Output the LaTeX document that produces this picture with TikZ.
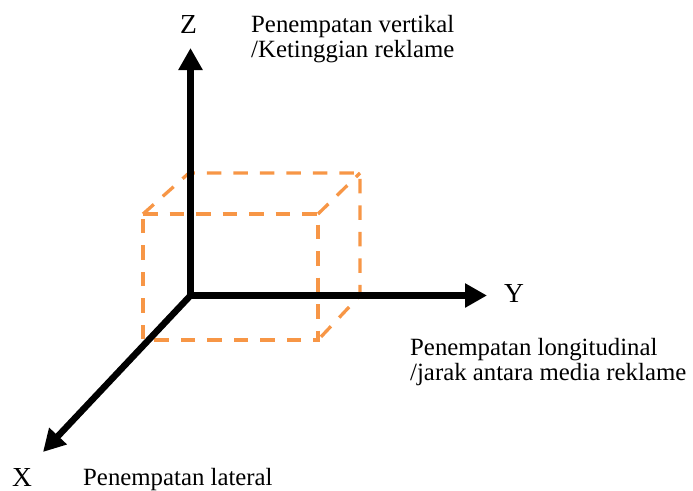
\documentclass[tikz,border=0pt]{standalone}
\usepackage{fontspec}
\setmainfont{Liberation Serif}
\usetikzlibrary{arrows.meta}
\definecolor{boxorange}{HTML}{F79646}
\tikzset{
  axis/.style={line width=6.5pt,-{Triangle[length=22pt,width=23pt]}},
  hidden/.style={boxorange,line width=3.3pt,dash pattern=on 14.5pt off 12pt},
  axlabel/.style={inner sep=0pt,anchor=base west,font=\fontsize{27.5}{30}\selectfont},
  desc/.style={inner sep=0pt,anchor=base west,align=left,font=\fontsize{24.8}{25}\selectfont}
}
\begin{document}
\begin{tikzpicture}[x=1pt,y=-1pt]
\useasboundingbox (0,0) rectangle (693,490);
% cube corners
\coordinate (f1) at (143,214);
\coordinate (f2) at (318,214);
\coordinate (f3) at (318,340);
\coordinate (f4) at (143,340);
\coordinate (b1) at (189,173);
\coordinate (b2) at (360,173);
\coordinate (b3) at (360,295.5);
\draw[hidden] (f1) -- (f2) -- (f3) -- (f4) -- cycle;
\draw[hidden] (f1) -- (b1) -- (b2) -- (b3) -- (f3);
\draw[hidden] (f2) -- (b2);
% axes
\coordinate (O) at (190.5,295.5);
\coordinate (Zt) at (190.5,48);
\coordinate (Yt) at (487,295.5);
\coordinate (Xt) at (43,452);
\draw[axis,line cap=rect] (O) -- (Zt);
\draw[axis,line cap=rect] (O) -- (Yt);
\draw[axis] (O) -- (Xt);
% labels
\node[axlabel] (zl) at (180,33) {Z};
\node[axlabel] (yl) at (504,302) {Y};
\node[axlabel] (xl) at (12,486) {X};
\node[desc] (zd) at (251,57) {Penempatan vertikal\\/Ketinggian reklame};
\node[desc] (yd) at (410,380) {Penempatan longitudinal\\/jarak antara media reklame};
\node[desc] (xd) at (83,485) {Penempatan lateral};
\end{tikzpicture}
\end{document}
